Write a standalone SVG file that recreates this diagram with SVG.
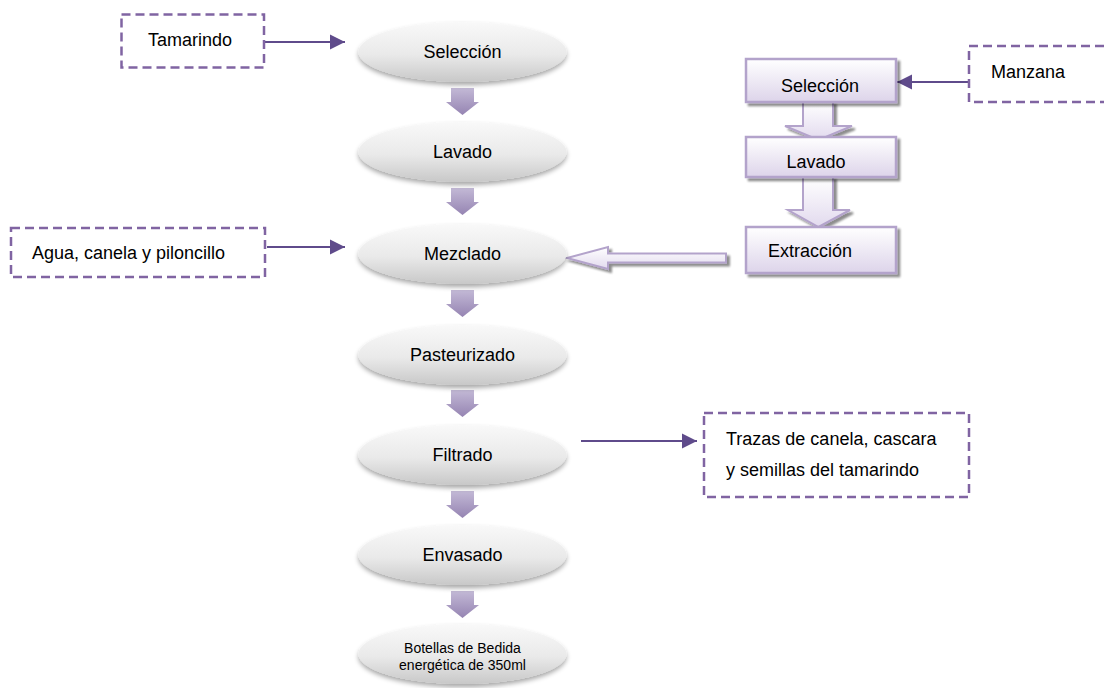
<svg xmlns="http://www.w3.org/2000/svg" width="1104" height="688" viewBox="0 0 1104 688">
<defs>
<linearGradient id="gEll" x1="0" y1="0" x2="0" y2="1">
<stop offset="0" stop-color="#f9f9f9"/>
<stop offset="0.55" stop-color="#e9e9e9"/>
<stop offset="1" stop-color="#c8c8c8"/>
</linearGradient>
<linearGradient id="gDown" x1="0" y1="0" x2="0" y2="1">
<stop offset="0" stop-color="#c3b9d6"/>
<stop offset="1" stop-color="#9584b2"/>
</linearGradient>
<linearGradient id="gRect" x1="0" y1="0" x2="0" y2="1">
<stop offset="0" stop-color="#ffffff"/>
<stop offset="1" stop-color="#ddd4ea"/>
</linearGradient>
<linearGradient id="gHollow" x1="0" y1="0" x2="0" y2="1">
<stop offset="0" stop-color="#ffffff"/>
<stop offset="1" stop-color="#e2daee"/>
</linearGradient>
<filter id="shEll" x="-20%" y="-20%" width="140%" height="160%">
<feGaussianBlur in="SourceAlpha" stdDeviation="2.5"/>
<feOffset dx="0" dy="3" result="b"/>
<feComponentTransfer><feFuncA type="linear" slope="0.35"/></feComponentTransfer>
<feMerge><feMergeNode/><feMergeNode in="SourceGraphic"/></feMerge>
</filter>
<filter id="shBox" x="-10%" y="-10%" width="130%" height="140%">
<feOffset in="SourceAlpha" dx="3" dy="3"/>
<feGaussianBlur stdDeviation="0.8"/>
<feComponentTransfer><feFuncA type="linear" slope="0.45"/></feComponentTransfer>
<feMerge><feMergeNode/><feMergeNode in="SourceGraphic"/></feMerge>
</filter>
<marker id="ah" viewBox="0 0 10 10" refX="10" refY="5" markerWidth="7" markerHeight="7" markerUnits="strokeWidth" orient="auto">
<path d="M0,0 L10,5 L0,10 Z" fill="#5f4b8b"/>
</marker>
</defs>
<style>
.ell{fill:url(#gEll);filter:url(#shEll)}
.t{font-family:"Liberation Sans",Arial,sans-serif;font-size:18px;fill:#000}
.ts{font-family:"Liberation Sans",Arial,sans-serif;font-size:14px;fill:#000}
.dash{fill:#fff;stroke:#8064a2;stroke-width:2.5;stroke-dasharray:9 5}
.rb{fill:url(#gRect);stroke:#b3a3cb;stroke-width:2.5;filter:url(#shBox)}
.down{fill:url(#gDown)}
.hol{fill:url(#gHollow);stroke:#b3a3cb;stroke-width:2;filter:url(#shBox)}
.con{fill:none;stroke:#5f4b8b;stroke-width:2.2;marker-end:url(#ah)}
</style>
<rect width="1104" height="688" fill="#fff"/>

<g id="connectors">
<path class="down" d="M451,88 H474 V102 H479 L462.5,115 L446,102 H451 Z"/>
<path class="down" d="M451,188 H474 V202 H479 L462.5,215 L446,202 H451 Z"/>
<path class="down" d="M451,290 H474 V304 H479 L462.5,317 L446,304 H451 Z"/>
<path class="down" d="M451,390 H474 V404 H479 L462.5,417 L446,404 H451 Z"/>
<path class="down" d="M451,491 H474 V505 H479 L462.5,518 L446,505 H451 Z"/>
<path class="down" d="M451,591 H474 V605 H479 L462.5,618 L446,605 H451 Z"/>
<path class="hol" d="M803,102 H833 V126 H852 L818.5,140 L785,126 H803 Z"/>
<path class="hol" d="M803,177 H833 V210 H850 L818.5,227 L788,210 H803 Z"/>
<path class="hol" d="M726,253.5 H608 V247 L567,258 L608,269 V262.5 H726 Z"/>
<line class="con" x1="264" y1="42" x2="345" y2="42"/>
<line class="con" x1="267" y1="247" x2="345" y2="247"/>
<line class="con" x1="969" y1="82" x2="897" y2="82"/>
<line class="con" x1="581" y1="441" x2="697" y2="441"/>
</g>

<g id="n-tamarindo">
<rect class="dash" x="121.5" y="14.5" width="142.5" height="53"/>
<text class="t" x="190" y="46" text-anchor="middle">Tamarindo</text>
</g>
<g id="n-agua">
<rect class="dash" x="11" y="228" width="254" height="49"/>
<text class="t" x="32" y="259">Agua, canela y  piloncillo</text>
</g>
<g id="n-manzana">
<rect class="dash" x="969" y="46" width="140" height="56"/>
<text class="t" x="991" y="78">Manzana</text>
</g>
<g id="n-trazas">
<rect class="dash" x="704" y="413" width="265" height="84"/>
<text class="t" x="726" y="445">Trazas de canela, cascara</text>
<text class="t" x="726" y="476">y semillas del tamarindo</text>
</g>

<g id="n-seleccion">
<ellipse class="ell" cx="462.5" cy="52" rx="104" ry="30"/>
<text class="t" x="462.5" y="58" text-anchor="middle">Selección</text>
</g>
<g id="n-lavado">
<ellipse class="ell" cx="462.5" cy="152" rx="104" ry="30"/>
<text class="t" x="462.5" y="158" text-anchor="middle">Lavado</text>
</g>
<g id="n-mezclado">
<ellipse class="ell" cx="462.5" cy="254" rx="104" ry="30"/>
<text class="t" x="462.5" y="260" text-anchor="middle">Mezclado</text>
</g>
<g id="n-pasteurizado">
<ellipse class="ell" cx="462.5" cy="355" rx="104" ry="30"/>
<text class="t" x="462.5" y="361" text-anchor="middle">Pasteurizado</text>
</g>
<g id="n-filtrado">
<ellipse class="ell" cx="462.5" cy="455" rx="104" ry="30"/>
<text class="t" x="462.5" y="461" text-anchor="middle">Filtrado</text>
</g>
<g id="n-envasado">
<ellipse class="ell" cx="462.5" cy="555" rx="104" ry="30"/>
<text class="t" x="462.5" y="561" text-anchor="middle">Envasado</text>
</g>
<g id="n-botellas">
<ellipse class="ell" cx="462.5" cy="654" rx="104" ry="30"/>
<text class="ts" x="462.5" y="653" text-anchor="middle">Botellas de Bedida</text>
<text class="ts" x="462.5" y="670" text-anchor="middle">energética de 350ml</text>
</g>

<g id="n-r-seleccion">
<rect class="rb" x="746" y="59" width="150" height="43"/>
<text class="t" x="820" y="92" text-anchor="middle">Selección</text>
</g>
<g id="n-r-lavado">
<rect class="rb" x="746" y="137" width="150" height="40"/>
<text class="t" x="816" y="168" text-anchor="middle">Lavado</text>
</g>
<g id="n-r-extraccion">
<rect class="rb" x="746" y="227" width="150" height="46"/>
<text class="t" x="810" y="257" text-anchor="middle">Extracción</text>
</g>
</svg>
